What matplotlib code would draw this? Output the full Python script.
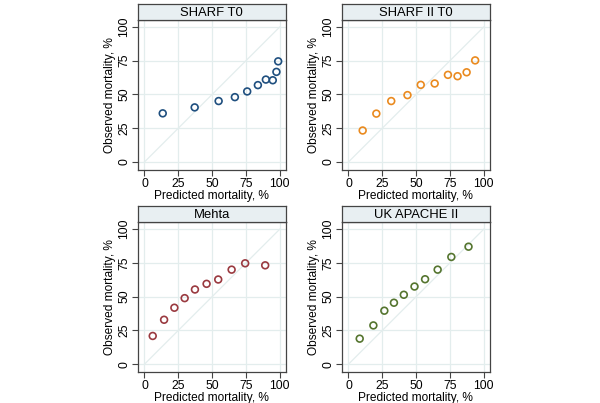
import matplotlib.pyplot as plt
import numpy as np

plt.rcParams['font.family'] = ['Liberation Sans', 'DejaVu Sans']

titles = ['SHARF T0', 'SHARF II T0', 'Mehta', 'UK APACHE II']
colors = ['#1f4f7f', '#ea8a1f', '#9a3a40', '#55752f']

pred_sharf = [13.5, 37.1, 54.8, 66.8, 75.9, 83.8, 89.7, 94.8, 97.5, 98.8]
obs_sharf = [36.0, 40.4, 45.1, 48.0, 52.2, 56.9, 61.0, 60.5, 66.7, 74.5]

pred_sharf2 = [10.5, 20.6, 31.6, 43.6, 53.4, 63.7, 73.5, 80.6, 87.3, 93.6]
obs_sharf2 = [23.3, 35.8, 45.1, 49.5, 57.1, 58.1, 64.5, 63.5, 66.4, 75.2]

pred_mehta = [6.1, 14.5, 22.1, 29.7, 37.3, 45.9, 54.5, 64.4, 74.4, 89.2]
obs_mehta = [20.9, 32.9, 41.8, 48.9, 55.3, 59.5, 62.7, 70.0, 74.7, 73.2]

pred_apache = [8.3, 18.4, 26.5, 33.6, 40.9, 48.8, 56.6, 65.9, 76.0, 88.7]
obs_apache = [18.9, 28.7, 39.6, 45.5, 51.4, 57.5, 62.9, 70.0, 79.4, 87.0]

preds = [pred_sharf, pred_sharf2, pred_mehta, pred_apache]
obss = [obs_sharf, obs_sharf2, obs_mehta, obs_apache]

ticks = [0, 25, 50, 75, 100]

fig = plt.figure(figsize=(6.0, 4.03), dpi=100)

# axes positions in figure fractions (left, bottom, width, height)
lefts = [0.2295, 0.5695, 0.2295, 0.5695]
bottoms = [0.578, 0.578, 0.0762, 0.0762]
w = 0.247
h = 0.372
strip_h = 16 / 403

grid_c = '#e3eded'
edge_c = '#444444'

for i in range(4):
    ax = fig.add_axes([lefts[i], bottoms[i], w, h])
    ax.set_xlim(-5, 104.5)
    ax.set_ylim(-6, 105)
    ax.set_xticks(ticks)
    ax.set_yticks(ticks)
    ax.grid(True, color=grid_c, linewidth=0.9)
    ax.set_axisbelow(True)
    ax.plot([0, 100], [0, 100], color=grid_c, linewidth=0.9, zorder=1)
    ax.scatter(preds[i], obss[i], s=24, facecolors='none',
               edgecolors=colors[i], linewidths=1.2, zorder=3)
    for sp in ax.spines.values():
        sp.set_color(edge_c)
        sp.set_linewidth(0.9)
    ax.tick_params(direction='out', length=4, width=0.8, color=edge_c,
                   labelsize=8.8, pad=1.5)
    for lab in ax.get_yticklabels():
        lab.set_rotation(90)
        lab.set_va('center')
    ax.set_xlabel('Predicted mortality, %', fontsize=8.6, labelpad=0.3)
    ax.set_ylabel('Observed mortality, %', fontsize=8.6, labelpad=1.5)

    # title strip
    top = bottoms[i] + h
    strip = fig.add_axes([lefts[i], top, w, strip_h])
    strip.set_facecolor('#e8eff2')
    strip.set_xticks([])
    strip.set_yticks([])
    for sp in strip.spines.values():
        sp.set_color(edge_c)
        sp.set_linewidth(0.9)
    strip.text(0.5, 0.45, titles[i], ha='center', va='center', fontsize=9.4,
               transform=strip.transAxes)

fig.savefig('out.png', dpi=100)
